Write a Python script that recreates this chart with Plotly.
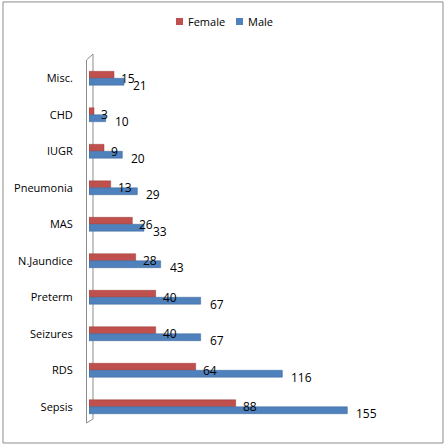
import plotly.graph_objects as go

# categories top to bottom as in the chart
categories = ["Misc.", "CHD", "IUGR", "Pneumonia", "MAS", "N.Jaundice",
              "Preterm", "Seizures", "RDS", "Sepsis"]
female = [15, 3, 9, 13, 26, 28, 40, 40, 64, 88]
male = [21, 10, 20, 29, 33, 43, 67, 67, 116, 155]
series_names = ["Female", "Male"]

FEMALE_COLOR = "#C0504D"
MALE_COLOR = "#4F81BD"
FONT = "Open Sans"

fig = go.Figure()

fig.add_trace(go.Bar(
    name=series_names[0], y=categories, x=female, orientation="h",
    marker=dict(color=FEMALE_COLOR, line=dict(color="#9C3A37", width=0.5)),
    hoverinfo="x+y", showlegend=False
))
fig.add_trace(go.Bar(
    name=series_names[1], y=categories, x=male, orientation="h",
    marker=dict(color=MALE_COLOR, line=dict(color="#3A6596", width=0.5)),
    hoverinfo="x+y", showlegend=False
))

# value labels, slightly below each bar end like the excel chart
for cat, f, m in zip(categories, female, male):
    fig.add_annotation(x=f, y=cat, text=str(f), showarrow=False,
                       xanchor="left", xshift=5, yshift=0,
                       font=dict(family=FONT, size=12, color="black"))
    fig.add_annotation(x=m, y=cat, text=str(m), showarrow=False,
                       xanchor="left", xshift=7, yshift=-7,
                       font=dict(family=FONT, size=12, color="black"))

# compact excel-style legend: small square + name
for name, color, x0 in zip(series_names, [FEMALE_COLOR, MALE_COLOR], [0.29, 0.49]):
    fig.add_shape(type="rect", xref="paper", yref="paper",
                  x0=x0, x1=x0 + 0.0233, y0=1.0959, y1=1.1151,
                  fillcolor=color, line=dict(width=0))
    fig.add_annotation(xref="paper", yref="paper", x=x0 + 0.0333, y=1.1055,
                       text=name, showarrow=False, xanchor="left", yanchor="middle",
                       font=dict(family=FONT, size=11, color="black"))

# 3d-ish wall behind the category axis
fig.add_shape(type="path", xref="paper", yref="paper",
              path="M -0.0083,0.0055 L -0.0083,1.0 L 0.0133,1.0164 L 0.0133,0.0164 Z",
              line=dict(color="#8c8c8c", width=1), layer="below")

# outer chart border
fig.add_shape(type="rect", xref="paper", yref="paper",
              x0=-0.2867, x1=1.18, y0=-0.0493, y1=1.159,
              line=dict(color="#8c8c8c", width=1))

fig.update_layout(
    width=447, height=446,
    margin=dict(l=89, r=58, t=60, b=21),
    barmode="group",
    bargap=0.62,
    bargroupgap=0,
    plot_bgcolor="white",
    paper_bgcolor="white",
    font=dict(family=FONT, size=11, color="black"),
    showlegend=False,
    xaxis=dict(range=[0, 180], visible=False, fixedrange=True),
    yaxis=dict(autorange="reversed", showgrid=False, showline=False,
               ticks="outside", ticklen=13, tickcolor="rgba(0,0,0,0)",
               tickfont=dict(family=FONT, size=11), fixedrange=True),
)

# drop the default page margin so the figure sits at the window's corner
fig.write_html("out.html", config={"displayModeBar": False},
               post_script="document.body.style.margin='0';")
